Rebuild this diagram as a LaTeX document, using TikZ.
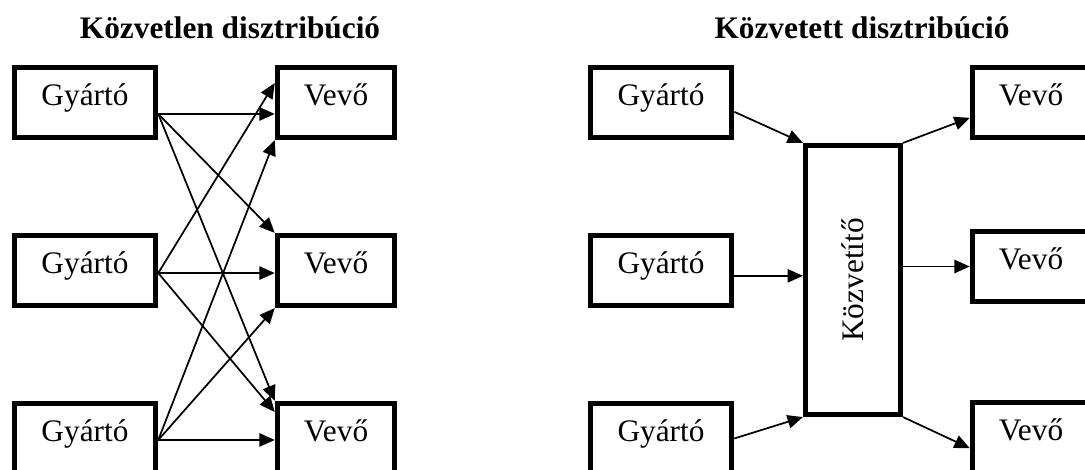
\documentclass[tikz,border=0pt]{standalone}
\usepackage{fontspec}
\setmainfont{Liberation Serif}
\usepackage{graphicx}
\usepackage{tikz}
\usetikzlibrary{arrows.meta}

\newcommand{\betu}{\fontsize{23.5}{28}\selectfont}

\begin{document}
\begin{tikzpicture}[x=0.75pt,y=0.75pt,yscale=-1,xscale=1,
    doboz/.style={draw, line width=3.9pt, inner sep=0pt, font=\betu, text height=0.7em, text depth=0.25em, minimum height=52.5pt},
    gyarto/.style={doboz, minimum width=106pt},
    vevo/.style={doboz, minimum width=88pt},
    nyil/.style={line width=1.3pt, -{Triangle[length=11.5pt,width=10pt]}},
    cim/.style={font=\betu\bfseries, anchor=base}]
  \useasboundingbox (0,0) rectangle (1085,470);

  % Titles
  \node[cim] (cim1) at (230,39) {Közvetlen disztribúció};
  \node[cim] (cim2) at (862,39) {Közvetett disztribúció};

  % Direct: three producers, three buyers
  \node[gyarto] (g1) at (85,102.5) {Gyártó};
  \node[gyarto] (g2) at (85,270.5) {Gyártó};
  \node[gyarto] (g3) at (85,438.5) {Gyártó};
  \node[vevo] (v1) at (336,102.5) {Vevő};
  \node[vevo] (v2) at (336,270.5) {Vevő};
  \node[vevo] (v3) at (336,438.5) {Vevő};

  % every producer to every buyer
  \draw[nyil] ([yshift=8.6pt]g1.east) coordinate (s1) -- (s1 -| v1.west);
  \draw[nyil] (s1) -- (v2.north west);
  \draw[nyil] (s1) -- (v3.north west);
  \draw[nyil] ([yshift=1.9pt]g2.east) coordinate (s2) -- ([yshift=-14.6pt]v1.west);
  \draw[nyil] (s2) -- (s2 -| v2.west);
  \draw[nyil] (s2) -- ([yshift=-19.9pt]v3.west);
  \draw[nyil] ([yshift=1.1pt]g3.east) coordinate (s3) -- (v1.south west);
  \draw[nyil] (s3) -- (v2.south west);
  \draw[nyil] (s3) -- (s3 -| v3.west);

  % Indirect: producers -> intermediary -> buyers
  \node[gyarto] (gr1) at (661,102.5) {Gyártó};
  \node[gyarto] (gr2) at (661,270.5) {Gyártó};
  \node[gyarto] (gr3) at (661,438.5) {Gyártó};
  \node[draw, line width=3.9pt, inner sep=0pt, font=\betu, minimum width=71.25pt, minimum height=201.75pt] (k) at (853,280) {\rotatebox{90}{Közvetítő}};
  \node[vevo] (vr1) at (1031,102.5) {Vevő};
  \node[vevo] (vr2) at (1031,266.5) {Vevő};
  \node[vevo] (vr3) at (1031,437.5) {Vevő};

  \draw[nyil] ([yshift=7pt]gr1.east) -- (k.north west);
  \draw[nyil] ([yshift=4pt]gr2.east) coordinate (s4) -- (s4 -| k.west);
  \draw[nyil] (gr3.east) -- (k.south west);
  \draw[nyil] (k.north east) -- ([yshift=11.5pt]vr1.west);
  \draw[nyil] (k.east |- vr2.west) -- (vr2.west);
  \draw[nyil] (k.south east) -- ([yshift=8pt]vr3.west);
\end{tikzpicture}
\end{document}
